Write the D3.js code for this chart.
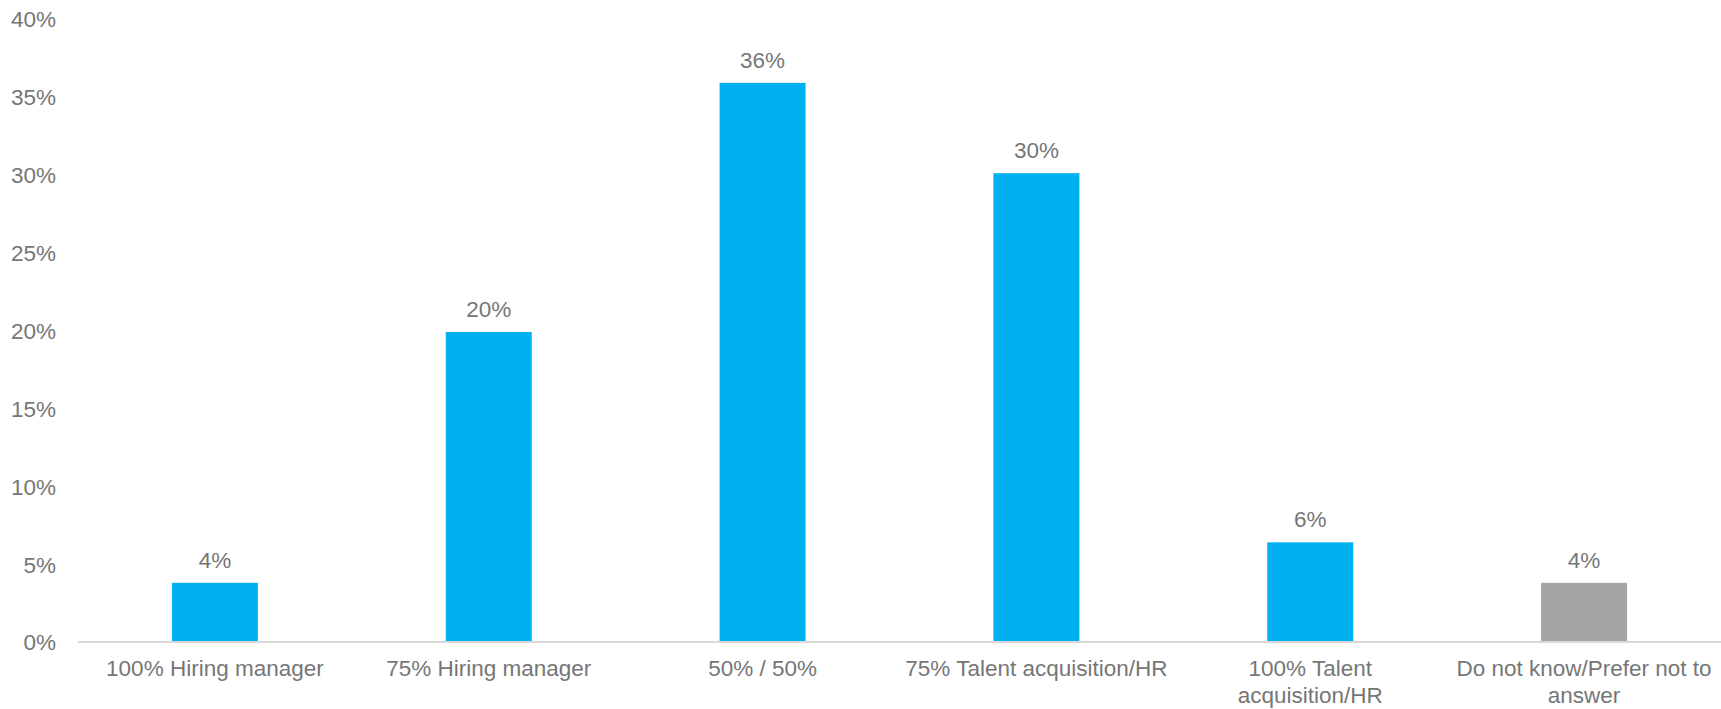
<!DOCTYPE html>
<html>
<head>
<meta charset="utf-8">
<script src="https://cdn.jsdelivr.net/npm/d3@7"></script>
<style>
  html, body { margin: 0; padding: 0; background: #ffffff; }
  svg { display: block; }
  text { font-family: "Liberation Sans", Arial, sans-serif; fill: #767676; }
</style>
</head>
<body>
<svg id="chart" width="1721" height="709"></svg>
<script>
// Survey split of hiring responsibility
const categories = [
  "100% Hiring manager",
  "75% Hiring manager",
  "50% / 50%",
  "75% Talent acquisition/HR",
  "100% Talent\nacquisition/HR",
  "Do not know/Prefer not to\nanswer"
];
const values = [3.8, 19.9, 35.9, 30.1, 6.4, 3.8];
const barColors = ["#00B0F0", "#00B0F0", "#00B0F0", "#00B0F0", "#00B0F0", "#A5A5A5"];
const yTicks = [0, 5, 10, 15, 20, 25, 30, 35, 40];

const svg = d3.select("#chart");
const margin = { left: 78, right: 0, top: 19, bottom: 67 };
const width = 1721, height = 709;
const fontSize = "22.5px";

const x = d3.scaleBand()
  .domain(categories)
  .range([margin.left, width - margin.right])
  .paddingInner(0.686)
  .paddingOuter(0.343);

const y = d3.scaleLinear()
  .domain([0, 40])
  .range([height - margin.bottom, margin.top]);

// Y axis labels (no axis line, no ticks)
const yAxis = d3.axisLeft(y)
  .tickValues(yTicks)
  .tickFormat(d => d + "%")
  .tickSize(0)
  .tickPadding(22);
const yg = svg.append("g")
  .attr("transform", `translate(${margin.left},0)`)
  .call(yAxis);
yg.select(".domain").remove();
yg.selectAll("text")
  .style("font-size", fontSize)
  .attr("fill", "#767676")
  .attr("dy", "0.35em");

// Bars
svg.append("g").selectAll("rect")
  .data(categories)
  .join("rect")
  .attr("x", d => x(d))
  .attr("width", x.bandwidth())
  .attr("y", (d, i) => y(values[i]))
  .attr("height", (d, i) => y(0) - y(values[i]))
  .attr("fill", (d, i) => barColors[i]);

// Baseline
svg.append("line")
  .attr("x1", margin.left)
  .attr("x2", width)
  .attr("y1", y(0))
  .attr("y2", y(0))
  .attr("stroke", "#D9D9D9")
  .attr("stroke-width", 2);

// Value labels
svg.append("g").selectAll("text")
  .data(categories)
  .join("text")
  .attr("x", d => x(d) + x.bandwidth() / 2)
  .attr("y", (d, i) => y(values[i]) - 15)
  .attr("text-anchor", "middle")
  .style("font-size", fontSize)
  .text((d, i) => Math.round(values[i]) + "%");

// Category labels (multi-line)
const xg = svg.append("g");
categories.forEach(c => {
  const t = xg.append("text")
    .attr("x", x(c) + x.bandwidth() / 2)
    .attr("y", y(0) + 34)
    .attr("text-anchor", "middle")
    .style("font-size", fontSize);
  c.split("\n").forEach((line, j) => {
    t.append("tspan")
      .attr("x", x(c) + x.bandwidth() / 2)
      .attr("dy", j === 0 ? 0 : 27)
      .text(line);
  });
});
</script>
</body>
</html>
